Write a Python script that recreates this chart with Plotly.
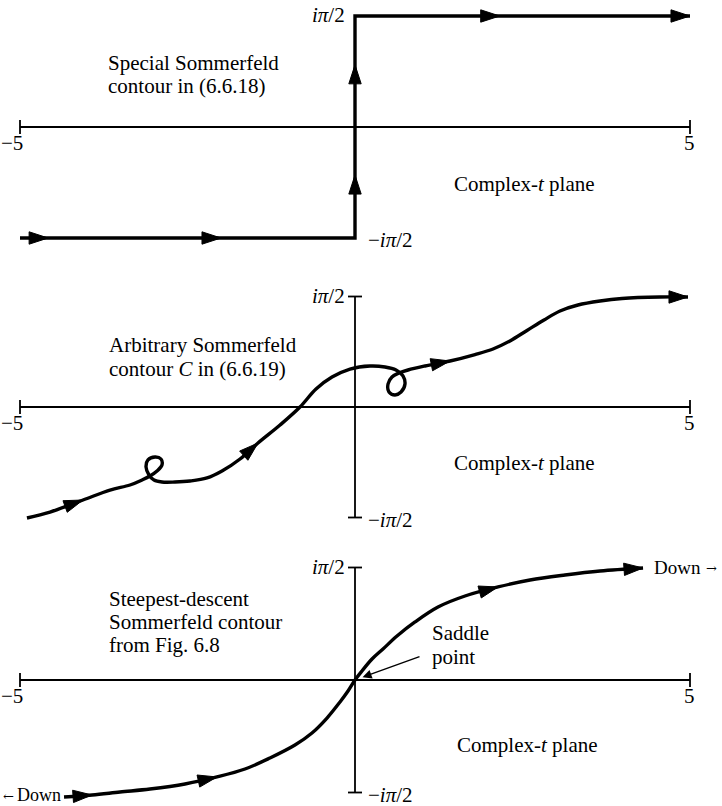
import math
import plotly.graph_objects as go

W, H = 722, 806
HALF = math.pi / 2

# ---------------------------------------------------------------- data
re_ticks = [-5, 5]
re_tick_labels = ["\u22125", "5"]
im_ticks = [HALF, -HALF]
im_tick_labels = ["<i>i\u03c0</i>/2", "\u2212<i>i\u03c0</i>/2"]

# Special Sommerfeld contour of (6.6.18): along -i*pi/2, up the imaginary axis, along +i*pi/2
special_re = [-5.0, -4.58, -2.0, 0.0, 0.0, 0.0, 0.0, 2.16, 5.0]
special_im = [-HALF, -HALF, -HALF, -HALF, -0.68, 0.88, HALF, HALF, HALF]
special_arrows = [1, 2, 4, 5, 7, 8]

# Arbitrary Sommerfeld contour C of (6.6.19), with its two small loops
arbitrary_re = [-4.896, -4.552, -4.060, -3.657, -3.358, -3.179, -3.060, -2.955, -2.881, -2.896,
                -2.985, -3.090, -3.119, -3.075, -3.000, -2.881, -2.687, -2.463, -2.209, -1.985,
                -1.716, -1.448, -1.119, -0.821, -0.582, -0.343, -0.075, 0.224, 0.448, 0.612,
                0.716, 0.746, 0.687, 0.597, 0.507, 0.493, 0.552, 0.657, 0.791, 1.045,
                1.418, 1.791, 2.060, 2.313, 2.567, 2.821, 3.060, 3.328, 3.657, 3.985,
                4.552, 4.970]
arbitrary_im = [-1.578, -1.493, -1.322, -1.180, -1.109, -1.038, -0.981, -0.910, -0.825, -0.739,
                -0.711, -0.753, -0.853, -0.967, -1.038, -1.066, -1.066, -1.052, -1.009, -0.910,
                -0.739, -0.512, -0.256, 0.000, 0.256, 0.426, 0.540, 0.583, 0.569, 0.526,
                0.441, 0.327, 0.213, 0.171, 0.213, 0.327, 0.426, 0.483, 0.526, 0.583,
                0.654, 0.746, 0.825, 0.939, 1.088, 1.237, 1.365, 1.450, 1.507, 1.543,
                1.564, 1.564]
arbitrary_arrows = [2, 21, 40, 51]

# Steepest-descent Sommerfeld contour through the saddle point at t = 0
steepest_re = [-4.343, -3.925, -3.507, -3.060, -2.537, -2.060, -1.642, -1.269, -0.896,
               -0.642, -0.418, -0.224, -0.104, 0.000, 0.104, 0.254, 0.418, 0.627,
               0.896, 1.239, 1.642, 2.134, 2.612, 3.134, 3.657, 4.299]
steepest_im = [-1.634, -1.606, -1.564, -1.522, -1.452, -1.354, -1.243, -1.089, -0.908,
               -0.740, -0.531, -0.307, -0.154, 0.000, 0.126, 0.293, 0.433, 0.614,
               0.810, 1.019, 1.173, 1.299, 1.396, 1.466, 1.522, 1.564]
steepest_arrows = [1, 5, 21, 25]

# ---------------------------------------------------------------- geometry
FONT = dict(family="Liberation Serif", size=21, color="black")
ARROW_FONT = dict(family="DejaVu Serif", size=13, color="black")
ORIGIN_X_PX = 355          # pixel column of Re t = 0
UNIT_X_PX = 67             # pixels per unit of Re t
PANELS = [(127, 111.0),    # (pixel row of the real axis, pixel length of pi/2)
          (407, 110.5),
          (680, 112.5)]
TICK_PX = 7
AXIS_W = 1.8
CONTOUR_W = 3.4
ARROW_SIZE = 20

x_range = [-ORIGIN_X_PX / UNIT_X_PX, (W - ORIGIN_X_PX) / UNIT_X_PX]

fig = go.Figure()
layout_axes = {}


def yref(k):
    return "y" if k == 0 else f"y{k + 1}"


def arrow_sizes(n, idx):
    return [ARROW_SIZE if i in idx else 0 for i in range(n)]


contours = [
    (special_re, special_im, special_arrows, "linear"),
    (arbitrary_re, arbitrary_im, arbitrary_arrows, "spline"),
    (steepest_re, steepest_im, steepest_arrows, "spline"),
]

for k, (row, half_px) in enumerate(PANELS):
    scale = half_px / HALF                  # pixels per unit of Im t
    y_range = [-(H - row) / scale, row / scale]
    name = "yaxis" if k == 0 else f"yaxis{k + 1}"
    ax = dict(range=y_range, domain=[0, 1], visible=False, fixedrange=True)
    if k > 0:
        ax["overlaying"] = "y"
    layout_axes[name] = ax
    ya = yref(k)

    # real axis with end ticks
    ty = TICK_PX / scale
    fig.add_trace(go.Scatter(
        x=[re_ticks[0], re_ticks[1], None, re_ticks[0], re_ticks[0], None, re_ticks[1], re_ticks[1]],
        y=[0, 0, None, -ty, ty, None, -ty, ty],
        mode="lines", line=dict(color="black", width=AXIS_W),
        yaxis=ya, hoverinfo="skip", showlegend=False, cliponaxis=False))

    # imaginary axis with end ticks (the first contour runs along it itself)
    if k > 0:
        tx = TICK_PX / UNIT_X_PX
        fig.add_trace(go.Scatter(
            x=[0, 0, None, -tx, tx, None, -tx, tx],
            y=[im_ticks[1], im_ticks[0], None, im_ticks[0], im_ticks[0], None, im_ticks[1], im_ticks[1]],
            mode="lines", line=dict(color="black", width=AXIS_W),
            yaxis=ya, hoverinfo="skip", showlegend=False, cliponaxis=False))

    # contour with direction arrows
    cx, cy, idx, shape = contours[k]
    fig.add_trace(go.Scatter(
        x=cx, y=cy, mode="lines+markers",
        line=dict(color="black", width=CONTOUR_W, shape=shape, backoff=0),
        marker=dict(symbol="arrow", size=arrow_sizes(len(cx), idx), angleref="previous",
                    color="black", opacity=1, line=dict(width=1, color="black")),
        yaxis=ya, hoverinfo="skip", showlegend=False, cliponaxis=False))

    # tick labels
    for xv, lab in zip(re_ticks, re_tick_labels):
        fig.add_annotation(x=xv, y=0, xref="x", yref=ya, text=lab, showarrow=False,
                           xanchor="right" if xv < 0 else "center", yanchor="middle",
                           xshift=5 if xv < 0 else -1, yshift=-16, font=FONT)
    fig.add_annotation(x=0, y=im_ticks[0], xref="x", yref=ya, text=im_tick_labels[0],
                       showarrow=False, xanchor="right", yanchor="middle",
                       xshift=-8, yshift=1, font=FONT)
    fig.add_annotation(x=0, y=im_ticks[1], xref="x", yref=ya, text=im_tick_labels[1],
                       showarrow=False, xanchor="left", yanchor="middle",
                       xshift=11, yshift=-2, font=FONT)


def label(text, px, py, anchor="left", size=None, font=None):
    f = font or (dict(FONT, size=size) if size else FONT)
    fig.add_annotation(x=px / W, y=1 - py / H, xref="paper", yref="paper", text=text,
                       showarrow=False, xanchor=anchor, yanchor="middle", font=f)


# panel captions
label("Special Sommerfeld", 106, 63)
label("contour in (6.6.18)", 106, 86)
label("Complex-<i>t</i> plane", 452, 184)

label("Arbitrary Sommerfeld", 107, 345)
label("contour <i>C</i> in (6.6.19)", 107, 369)
label("Complex-<i>t</i> plane", 452, 463)

label("Steepest-descent", 107, 599)
label("Sommerfeld contour", 107, 622)
label("from Fig. 6.8", 107, 645)
label("Complex-<i>t</i> plane", 455, 745)
label("Saddle", 430, 633)
label("point", 430, 657)

# directions of steepest descent at both ends of the contour
label("Down", 652, 567, size=19)
label("\u2192", 704, 568, font=ARROW_FONT)
label("\u2190", 1, 796, font=ARROW_FONT)
label("Down", 15, 795, size=18)

# pointer to the saddle point
fig.add_annotation(x=0, y=0, xref="x", yref="y3", text="", showarrow=True,
                   ax=66, ay=-24, arrowhead=2, arrowsize=1.3, arrowwidth=1.4,
                   arrowcolor="black", standoff=8)

fig.update_layout(
    width=W, height=H, margin=dict(l=0, r=0, t=0, b=0),
    paper_bgcolor="white", plot_bgcolor="white",
    xaxis=dict(range=x_range, domain=[0, 1], visible=False, fixedrange=True),
    showlegend=False,
    **layout_axes,
)

fig.write_html("out.html")
